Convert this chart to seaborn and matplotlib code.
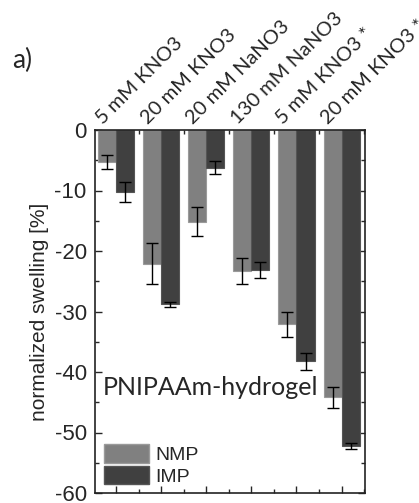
import numpy as np
import pandas as pd
import matplotlib
matplotlib.use("Agg")
import matplotlib.pyplot as plt
import matplotlib.transforms as mtransforms
from matplotlib.patches import Patch
from matplotlib.ticker import MultipleLocator
import seaborn as sns

categories = ["5 mM KNO3", "20 mM KNO3", "20 mM NaNO3", "130 mM NaNO3",
              "5 mM KNO3 *", "20 mM KNO3 *"]
nmp_values = [-5.3, -22.1, -15.15, -23.3, -32.1, -44.2]
nmp_errors = [1.1, 3.4, 2.35, 2.1, 2.05, 1.8]
imp_values = [-10.25, -28.8, -6.2, -23.1, -38.2, -52.2]
imp_errors = [1.6, 0.45, 1.0, 1.35, 1.4, 0.45]
series = ["NMP", "IMP"]
colors = {"NMP": "#808080", "IMP": "#404040"}
edges = {"NMP": "#9a9a9a", "IMP": "#555555"}
y_ticks = [0, -10, -20, -30, -40, -50, -60]

df = pd.DataFrame({
    "cat": categories * 2,
    "series": ["NMP"] * 6 + ["IMP"] * 6,
    "value": nmp_values + imp_values,
    "err": nmp_errors + imp_errors,
})

sns.set_theme(style="ticks")
plt.rcParams["font.family"] = ["Liberation Sans", "DejaVu Sans"]

fig = plt.figure(figsize=(4.19, 5.03), dpi=100)
ax = fig.add_axes([95/419, 1-493/503, 270/419, 363/503])

sns.barplot(data=df, x="cat", y="value", hue="series", order=categories,
            hue_order=series, palette=colors, width=0.8, errorbar=None,
            legend=False, ax=ax, saturation=1)

for container, s in zip(ax.containers, series):
    errs = df[df.series == s]["err"].values
    xs, ys = [], []
    for p in container.patches:
        p.set_edgecolor(edges[s])
        p.set_linewidth(0.8)
        xs.append(p.get_x() + p.get_width() / 2)
        ys.append(p.get_y() + p.get_height())
    ax.errorbar(xs, ys, yerr=errs, fmt="none", ecolor="black",
                elinewidth=1.0, capsize=4.5, capthick=1.0, zorder=5)

ax.set_xlim(-0.47, 5.52)
ax.set_ylim(-60, 0)
ax.set_yticks(y_ticks)
ax.set_yticklabels([str(v) for v in y_ticks])
ax.yaxis.set_minor_locator(MultipleLocator(5))
ax.set_xlabel("")
ax.set_ylabel("normalized swelling [%]", fontsize=15, labelpad=4)

for sp in ax.spines.values():
    sp.set_visible(True)
    sp.set_linewidth(1.2)
    sp.set_color("#222222")

ax.tick_params(axis="y", which="both", direction="in", left=True, right=True,
               labelsize=16, pad=6, width=1.0)
ax.tick_params(axis="y", which="major", length=5)
ax.tick_params(axis="y", which="minor", length=3)
ax.tick_params(axis="x", which="both", direction="in", top=True, bottom=True,
               labeltop=True, labelbottom=False, width=1.0)
ax.tick_params(axis="x", which="major", length=5, pad=2)
ax.tick_params(axis="x", which="minor", length=3)

ax.set_xticks(range(len(categories)))
ax.set_xticklabels(categories, rotation=45, ha="left", va="bottom",
                   rotation_mode="anchor", fontfamily="Lato", fontsize=14.5)
ax.xaxis.set_minor_locator(MultipleLocator(0.5))

offset = mtransforms.ScaledTranslation(-11/100, 0/100, fig.dpi_scale_trans)
for lbl in ax.xaxis.get_majorticklabels():
    lbl.set_transform(lbl.get_transform() + offset)

handles = [Patch(facecolor=colors[s], edgecolor=edges[s], label=s) for s in series]
ax.legend(handles=handles, loc="lower left", bbox_to_anchor=(0.035, 0.02),
          frameon=False, fontsize=14, handlelength=2.3, handleheight=1.1,
          labelspacing=0.1, handletextpad=0.3, borderpad=0, borderaxespad=0)

ax.text(0.03, 0.29, "PNIPAAm-hydrogel", transform=ax.transAxes,
        fontfamily="Lato", fontsize=18, va="center", ha="left")

fig.text(12/419, 1-68/503, "a)", fontfamily="Lato", fontsize=19,
         ha="left", va="baseline")

fig.savefig("out.png", dpi=100)
